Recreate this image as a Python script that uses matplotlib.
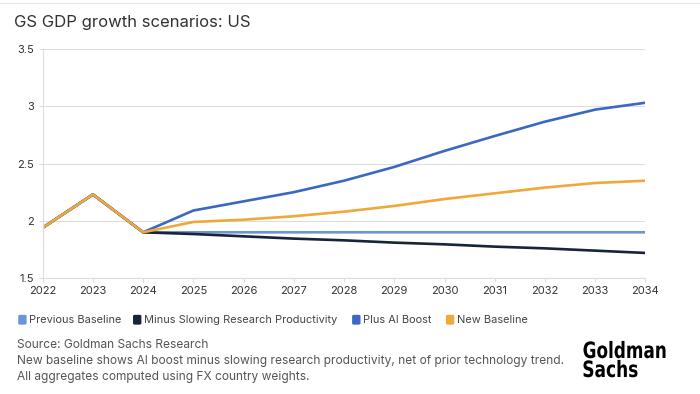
import matplotlib
matplotlib.use("Agg")
import matplotlib.pyplot as plt
from matplotlib.patches import FancyBboxPatch, PathPatch
from matplotlib.textpath import TextPath
from matplotlib.font_manager import FontProperties
from matplotlib.transforms import Affine2D

plt.rcParams['font.family'] = ['Inter', 'DejaVu Sans']

years = list(range(2022, 2035))
history = [1.94, 2.23, 1.90]
previous_baseline = history + [1.90] * 10
minus_slowing = history + [1.885, 1.865, 1.845, 1.83, 1.81, 1.795, 1.775, 1.76, 1.74, 1.72]
plus_ai = history + [2.09, 2.17, 2.25, 2.35, 2.47, 2.61, 2.74, 2.865, 2.97, 3.03]
new_baseline = history + [1.99, 2.01, 2.04, 2.08, 2.13, 2.19, 2.24, 2.29, 2.33, 2.35]

series = [
    ("Previous Baseline", previous_baseline, "#6b96d4"),
    ("Minus Slowing Research Productivity", minus_slowing, "#17243a"),
    ("Plus AI Boost", plus_ai, "#3a68c2"),
    ("New Baseline", new_baseline, "#efa83a"),
]

fig = plt.figure(figsize=(7, 3.94), dpi=100)
ax = fig.add_axes([0.061, 0.294, 0.861, 0.582])

for name, vals, col in series:
    ax.plot(years, vals, color=col, lw=1.9, solid_capstyle='round')

ax.set_xlim(2022, 2034)
ax.set_ylim(1.5, 3.5)
ax.set_yticks([1.5, 2, 2.5, 3, 3.5])
ax.set_yticklabels(["1.5", "2", "2.5", "3", "3.5"])
ax.set_xticks(years)
ax.grid(axis='y', color='#dddddd', lw=0.8)
ax.set_axisbelow(True)
for s in ['top', 'right']:
    ax.spines[s].set_visible(False)
ax.spines['left'].set_color('#dddddd')
ax.spines['bottom'].set_color('#dddddd')
ax.tick_params(axis='both', labelsize=8, colors='#dddddd', labelcolor='#333333', length=3)
ax.tick_params(axis='x', pad=3)

fig.text(0.02, 0.942, "GS GDP growth scenarios: US", fontsize=12, color='#333333', va='center')
fig.add_artist(plt.Line2D([0.0, 1.0], [0.992, 0.992], color='#e6e6e6', lw=0.8, transform=fig.transFigure))

# legend
lx = [0.026, 0.19, 0.503, 0.637]
for (name, vals, col), x in zip(series, lx):
    fig.add_artist(FancyBboxPatch((x, 0.176), 0.012, 0.025, boxstyle="round,pad=0.0,rounding_size=0.003",
                                  transform=fig.transFigure, facecolor=col, edgecolor='none'))
    fig.text(x + 0.016, 0.189, name, fontsize=7.9, color='#444444', va='center')

notes = ["Source: Goldman Sachs Research",
         "New baseline shows AI boost minus slowing research productivity, net of prior technology trend.",
         "All aggregates computed using FX country weights."]
for i, t in enumerate(notes):
    fig.text(0.024, 0.124 - i * 0.041, t, fontsize=8.6, color='#555555', va='center')

# condensed logo drawn as text paths (in inches)
fp = FontProperties(family='DejaVu Sans', weight='bold')
for word, base_y, width in [("Goldman", 0.36, 0.82), ("Sachs", 0.17, 0.54)]:
    tp = TextPath((0, 0), word, size=0.225, prop=fp)
    ext = tp.get_extents()
    sx = width / ext.width
    tr = Affine2D().translate(-ext.x0, 0).scale(sx, 1.0).translate(5.835, base_y) + fig.dpi_scale_trans
    fig.add_artist(PathPatch(tp, transform=tr, facecolor='black', edgecolor='none'))

fig.savefig("out.png", dpi=100, facecolor='white')
